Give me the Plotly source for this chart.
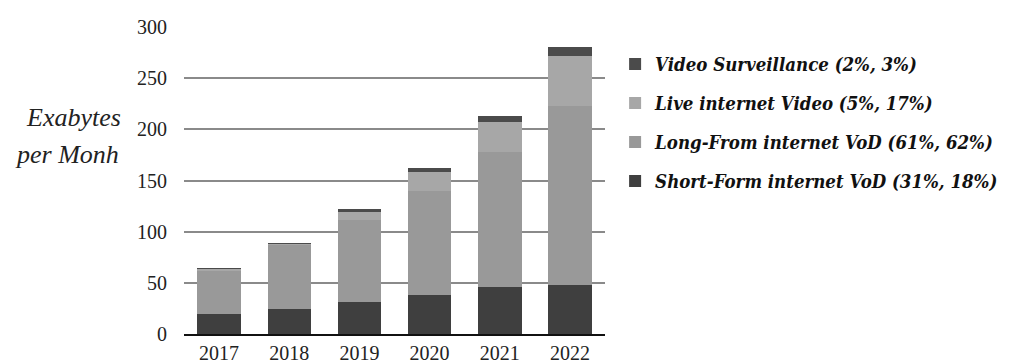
import plotly.graph_objects as go

years = ["2017", "2018", "2019", "2020", "2021", "2022"]

# Monthly traffic in exabytes, per video category
short_form = [20, 24, 31, 38, 46, 48]
long_form = [42, 63, 80, 102, 132, 175]
live_video = [2, 1, 8, 18, 29, 49]
surveillance = [0.5, 0.5, 3, 4, 6, 8]

series = [
    ("Short-Form internet VoD (31%, 18%)", short_form, "#3f3f3f"),
    ("Long-From internet VoD (61%, 62%)", long_form, "#999999"),
    ("Live internet Video (5%, 17%)", live_video, "#a7a7a7"),
    ("Video Surveillance (2%, 3%)", surveillance, "#4b4b4b"),
]

y_ticks = [0, 50, 100, 150, 200, 250, 300]

fig = go.Figure()
for i, (name, vals, color) in enumerate(series):
    fig.add_trace(go.Bar(
        x=years, y=vals, name=name, legendgroup=f"g{i}",
        legendrank=len(series) - i,
        marker=dict(color=color, line=dict(width=0)),
    ))

serif = "Liberation Serif, Times New Roman, DejaVu Serif, serif"
legend_font = "DejaVu Serif Condensed, DejaVu Serif, serif"

fig.update_layout(
    barmode="stack",
    bargap=0.38,
    width=1016, height=363,
    margin=dict(l=184, r=411, t=27, b=29),
    plot_bgcolor="white", paper_bgcolor="white",
    font=dict(family=serif, color="#222222", size=20),
    showlegend=True,
    legend=dict(
        traceorder="grouped",
        tracegroupgap=12,
        x=1.024, xanchor="left",
        y=0.94, yanchor="top",
        font=dict(family=legend_font, size=18.5, color="#111111", style="italic", weight="bold"),
        itemsizing="constant",
        bgcolor="rgba(0,0,0,0)",
    ),
    xaxis=dict(
        showline=True, linecolor="#111111", linewidth=2,
        ticks="", tickfont=dict(size=20, family=serif),
        showgrid=False, automargin=False,
    ),
    yaxis=dict(
        range=[0, 300], tickvals=y_ticks,
        showgrid=True, gridcolor="#8a8a8a", gridwidth=1.5,
        zeroline=False, showline=False, ticks="",
        tickfont=dict(size=20, family=serif),
        ticklabelstandoff=16, automargin=False,
    ),
)

fig.add_annotation(
    text="Exabytes", xref="paper", yref="paper", x=0, xshift=-61,
    y=(334 - 117) / 307, xanchor="right", yanchor="middle",
    showarrow=False, font=dict(family=serif, size=26, style="italic", color="#222222"),
)
fig.add_annotation(
    text="per Monh", xref="paper", yref="paper", x=0, xshift=-63,
    y=(334 - 154) / 307, xanchor="right", yanchor="middle",
    showarrow=False, font=dict(family=serif, size=26, style="italic", color="#222222"),
)

fig.write_html("out.html")
